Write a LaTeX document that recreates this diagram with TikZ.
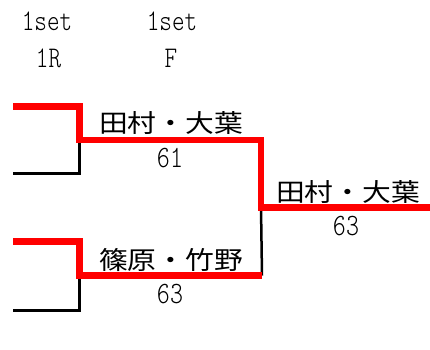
\documentclass[tikz,border=0pt]{standalone}
\usepackage{fontspec}
\newfontfamily\jpfont[FakeStretch=1.15]{Noto Sans CJK JP}
\newfontfamily\hwfont[FakeStretch=0.8]{lmmonolt10-regular.otf}
\usetikzlibrary{positioning}

\begin{document}
\begin{tikzpicture}[x=1pt, y=-1pt,
  win/.style={draw, red, line width=6.5pt},
  lose/.style={draw, black, line width=2.5pt},
  head/.style={font=\fontsize{30}{30}\selectfont\hwfont, inner sep=0pt, anchor=base},
  pair/.style={font=\fontsize{25}{25}\selectfont\jpfont, inner sep=0pt, anchor=base},
  score/.style={font=\fontsize{31}{31}\selectfont\hwfont, inner sep=0pt, anchor=base}]

\useasboundingbox (0,0) rectangle (430,349);

% headings
\node[head] (set1) at (47,30) {1set};
\node[head] (set2) at (172,30) {1set};
\node[head] (rd1) at (48.5,67) {1R};
\node[head] (rd2) at (171,67) {F};

% bracket corners
\coordinate (t1) at (13,106.5);
\coordinate (t2) at (79.5,106.5);
\coordinate (t3) at (79.5,140);
\coordinate (t4) at (79.5,173.5);
\coordinate (t5) at (13,173.5);
\coordinate (b1) at (13,241.5);
\coordinate (b2) at (79.5,241.5);
\coordinate (b3) at (79.5,275.5);
\coordinate (b4) at (79.5,310.5);
\coordinate (b5) at (13,310.5);
\coordinate (m1) at (261,140);
\coordinate (m2) at (261,207.5);
\coordinate (m3) at (262,275.5);
\coordinate (w1) at (430,207.5);

% losers
\path[lose] (t3) -- (t4) -- (t5);
\path[lose] (b3) -- (b4) -- (b5);
\path[lose] (m2) -- (m3);

% winners
\path[win] (t1) -- (t2) -- (t3) -- (m1) -- (m2) -- (w1);
\path[win] (b1) -- (b2) -- (b3) -- (m3);

% names and scores
\node[pair] (p1) at (171,132) {田村・大葉};
\node[score] (s1) at (170,167) {61};
\node[pair] (p2) at (171,269) {篠原・竹野};
\node[score] (s2) at (170,303) {63};
\node[pair] (p3) at (348,201) {田村・大葉};
\node[score] (s3) at (346,235) {63};

\end{tikzpicture}
\end{document}
